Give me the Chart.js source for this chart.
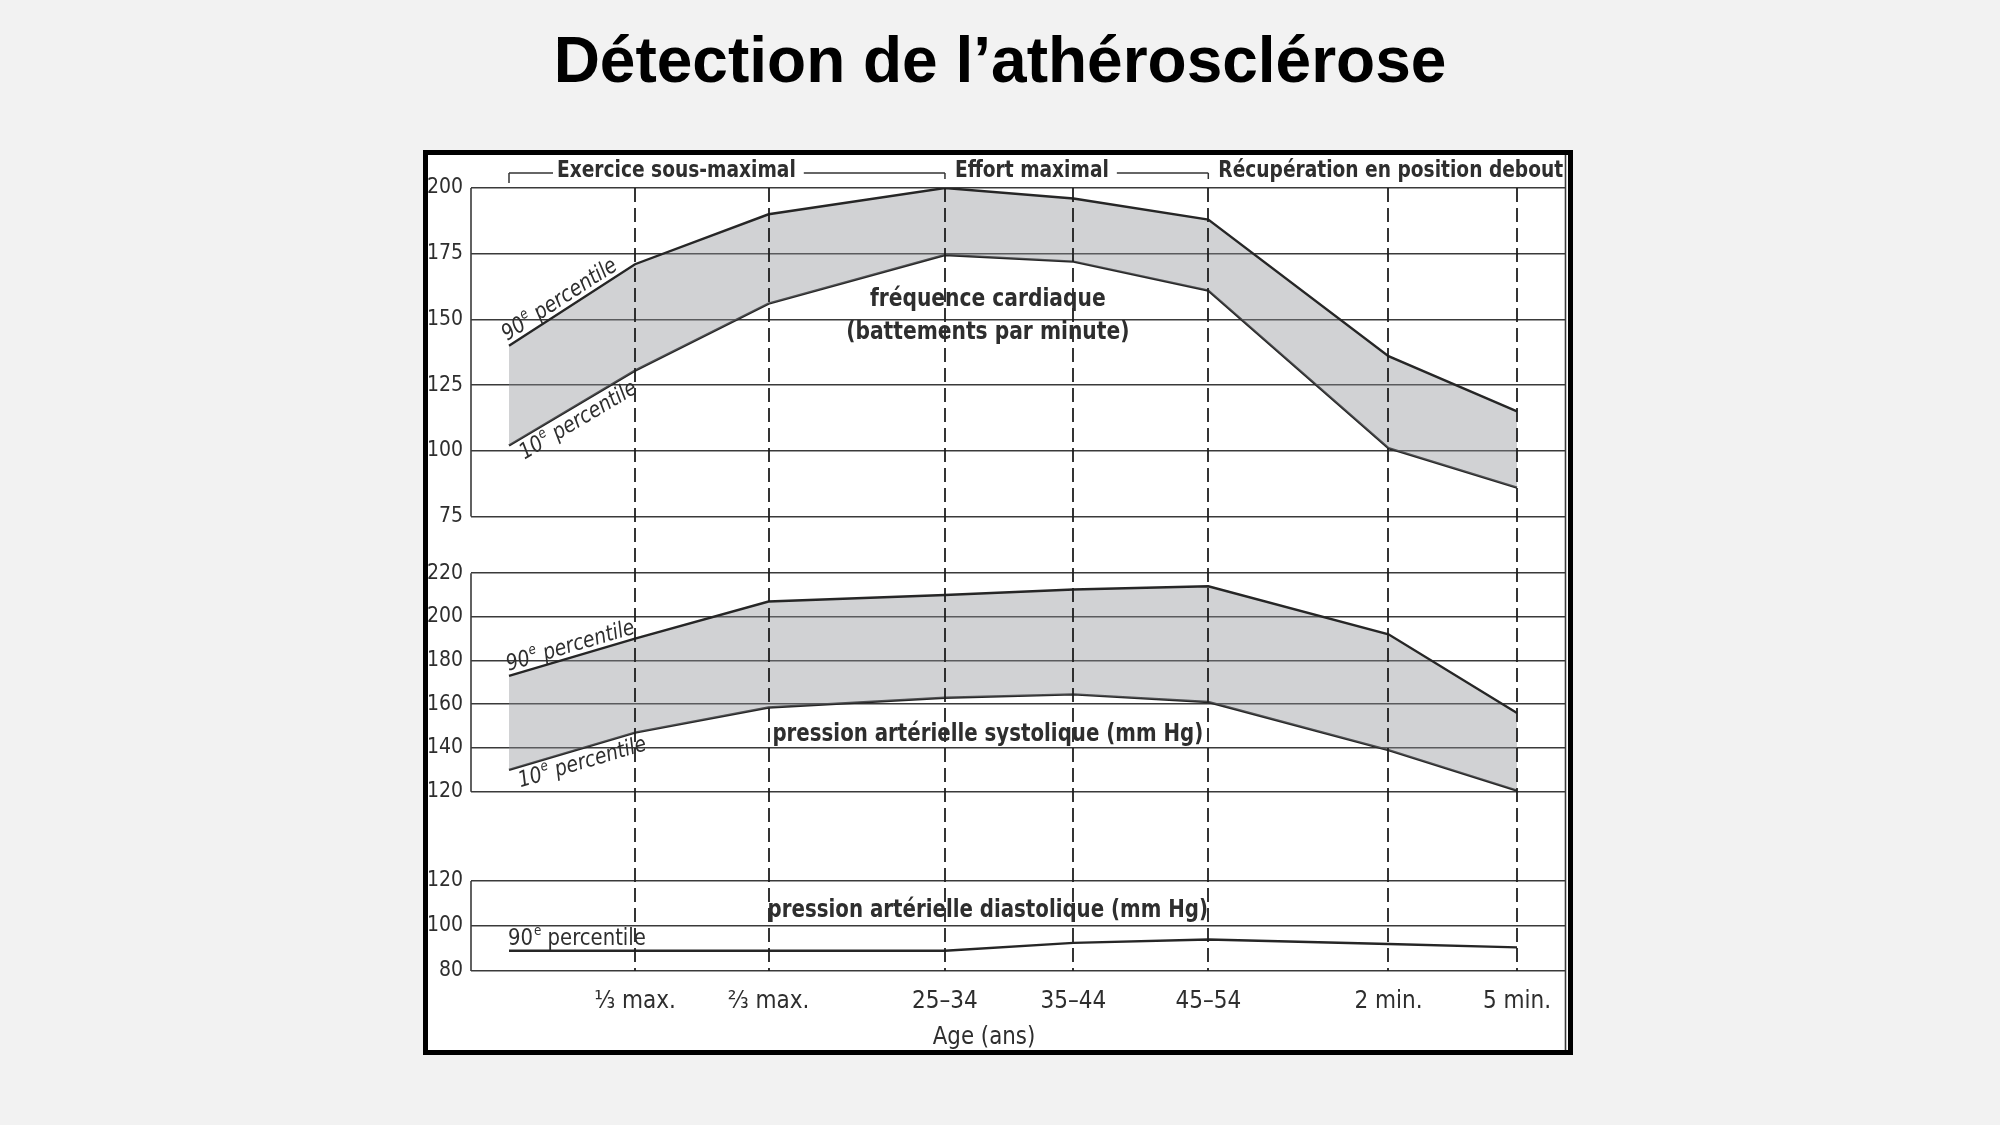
<!DOCTYPE html>
<html lang="fr">
<head>
  <meta charset="UTF-8" />
  <title>Détection de l’athérosclérose</title>
  <style>
    body {
      margin: 0;
      width: 2000px;
      height: 1125px;
      background: #f2f2f2;
      position: relative;
      overflow: hidden;
    }

    .title {
      position: absolute;
      left: 0;
      top: 28px;
      width: 2000px;
      margin: 0;
      text-align: center;
      font-family: 'Liberation Sans', Arial, sans-serif;
      font-weight: bold;
      font-size: 64px;
      line-height: 1;
      color: #000;
    }

    .frame {
      position: absolute;
      left: 423px;
      top: 150px;
      width: 1150px;
      height: 905px;
      box-sizing: border-box;
      border: 5px solid #000;
      background: #fff;
    }

    canvas {
      display: block;
    }
  </style>
</head>
<body>
  <h1 class="title">Détection de l’athérosclérose</h1>

  <div class="frame">
    <canvas id="chart" width="1140" height="895"></canvas>
  </div>

  <script src="https://cdn.jsdelivr.net/npm/chart.js"></script>
  <script>
    // stages along the x axis (first one is rest, no label)
    const stageLabels = ['', '⅓ max.', '⅔ max.', '25–34', '35–44', '45–54', '2 min.', '5 min.'];
    const stageAt = [0, 1, 2.06, 3.46, 4.48, 5.55, 6.98, 8.0];

    // fréquence cardiaque (battements par minute)
    const hr90 = [140, 171, 190, 200, 196, 188, 136, 115];
    const hr10 = [102, 130.5, 156, 174.5, 172, 161, 101, 86];

    // pression artérielle systolique (mm Hg)
    const sys90 = [173, 190, 207, 210, 212.5, 214, 192, 156];
    const sys10 = [130, 147, 158.5, 163, 164.5, 161, 139, 120.5];

    // pression artérielle diastolique (mm Hg)
    const dia90 = [89, 89, 89, 89, 92.5, 94, 92, 90.5];

    const hrTicks = [75, 100, 125, 150, 175, 200];
    const sysTicks = [120, 140, 160, 180, 200, 220];
    const diaTicks = [80, 100, 120];

    const phases = [
      { text: 'Exercice sous-maximal', from: 0, to: 3 },
      { text: 'Effort maximal', from: 3, to: 5 },
      { text: 'Récupération en position debout', from: 5, to: null }
    ];

    const NARROW = "'Liberation Sans Narrow', 'DejaVu Sans Condensed', 'Arial Narrow', sans-serif";
    const INK = '#2e2e2e';
    const LINE = '#262626';
    const BAND = 'rgba(140, 143, 148, 0.4)';
    const TICK_SIZE = 21;

    const pts = arr => stageAt.map((x, i) => ({ x: x, y: arr[i] }));

    // y labels are mirrored (no clipping on a zero-width axis), so shift them back left
    const measure = document.createElement('canvas').getContext('2d');
    function labelShift(ticks) {
      measure.font = TICK_SIZE + 'px ' + NARROW;
      const widest = Math.max(...ticks.map(v => measure.measureText(String(v)).width));
      return -(8 + widest);
    }

    function yAxis(min, max, ticks) {
      return {
        type: 'linear',
        position: 'left',
        min: min,
        max: max,
        afterBuildTicks: s => { s.ticks = ticks.map(v => ({ value: v })); },
        afterFit: s => { s.width = 0; },
        grid: { color: '#3a3a3a', lineWidth: 1.6, drawTicks: false },
        border: { display: false },
        ticks: {
          mirror: true,
          crossAlign: 'far',
          padding: labelShift(ticks),
          color: INK,
          font: { family: NARROW, size: TICK_SIZE }
        }
      };
    }

    // text squeezed horizontally to look like a condensed face
    function squeezed(ctx, text, x, y, sx) {
      ctx.save();
      ctx.translate(x, y);
      ctx.scale(sx, 1);
      ctx.fillText(text, 0, 0);
      const w = ctx.measureText(text).width * sx;
      ctx.restore();
      return w;
    }

    // "90e percentile" with a raised e
    function percentileText(ctx, num, x, y, size, italic) {
      const st = italic ? 'italic ' : '';
      const sx = 0.95;
      ctx.font = st + size + 'px ' + NARROW;
      let w = squeezed(ctx, num, x, y, sx);
      ctx.font = st + Math.round(size * 0.62) + 'px ' + NARROW;
      w += squeezed(ctx, 'e', x + w + 1, y - size * 0.42, sx) + 1;
      ctx.font = st + size + 'px ' + NARROW;
      squeezed(ctx, ' percentile', x + w, y, sx);
    }

    function labelAlong(ctx, xs, ys, arr, num, above) {
      const x0 = xs.getPixelForValue(stageAt[0]), y0 = ys.getPixelForValue(arr[0]);
      const x1 = xs.getPixelForValue(stageAt[1]), y1 = ys.getPixelForValue(arr[1]);
      ctx.save();
      ctx.translate(x0, y0);
      ctx.rotate(Math.atan2(y1 - y0, x1 - x0));
      ctx.textBaseline = 'alphabetic';
      ctx.fillStyle = INK;
      percentileText(ctx, num, above ? 1 : 6, above ? -5 : 20, 22, true);
      ctx.restore();
    }

    const overlay = {
      id: 'overlay',
      afterDatasetsDraw(chart) {
        const { ctx, chartArea: a, scales } = chart;
        const x = scales.x;
        ctx.save();

        // dashed stage lines
        ctx.strokeStyle = '#1e1e1e';
        ctx.lineWidth = 1.8;
        ctx.setLineDash([14, 6]);
        for (let i = 1; i < stageAt.length; i++) {
          const px = Math.round(x.getPixelForValue(stageAt[i]));
          ctx.beginPath();
          ctx.moveTo(px, a.top);
          ctx.lineTo(px, a.bottom);
          ctx.stroke();
        }
        ctx.setLineDash([]);

        // left border of each panel
        ctx.strokeStyle = '#3a3a3a';
        ctx.lineWidth = 1.6;
        [[scales.yHR, hrTicks], [scales.ySys, sysTicks], [scales.yDia, diaTicks]].forEach(([s, t]) => {
          ctx.beginPath();
          ctx.moveTo(a.left, s.getPixelForValue(Math.max(...t)));
          ctx.lineTo(a.left, s.getPixelForValue(Math.min(...t)));
          ctx.stroke();
        });

        // right inner frame line
        ctx.beginPath();
        ctx.moveTo(a.right + 0.5, 0);
        ctx.lineTo(a.right + 0.5, chart.height);
        ctx.stroke();

        // phase header
        const hy = a.top - 15;
        ctx.strokeStyle = '#333';
        ctx.lineWidth = 1.5;
        ctx.fillStyle = INK;
        ctx.font = 'bold 23px ' + NARROW;
        ctx.textBaseline = 'middle';
        ctx.textAlign = 'left';
        phases.forEach((p, i) => {
          const sx = x.getPixelForValue(stageAt[p.from]);
          const tx = sx + (i === 0 ? 48 : 10);
          const tw = squeezed(ctx, p.text, tx, hy - 2, 0.9);
          ctx.beginPath();
          ctx.moveTo(sx, hy + (i === 0 ? 10 : 6));
          ctx.lineTo(sx, hy);
          ctx.stroke();
          if (i === 0) {
            ctx.beginPath();
            ctx.moveTo(sx, hy);
            ctx.lineTo(tx - 4, hy);
            ctx.stroke();
          }
          if (p.to !== null) {
            const ex = x.getPixelForValue(stageAt[p.to]);
            ctx.beginPath();
            ctx.moveTo(tx + tw + 8, hy);
            ctx.lineTo(ex, hy);
            ctx.stroke();
          }
        });

        // panel titles
        const lx = x.getPixelForValue(3.8);
        ctx.textAlign = 'center';
        ctx.font = 'bold 25px ' + NARROW;
        squeezed(ctx, 'fréquence cardiaque', lx, scales.yHR.getPixelForValue(157.4), 0.9);
        squeezed(ctx, '(battements par minute)', lx, scales.yHR.getPixelForValue(144.9), 0.9);
        squeezed(ctx, 'pression artérielle systolique (mm Hg)', lx, scales.ySys.getPixelForValue(146), 0.88);
        squeezed(ctx, 'pression artérielle diastolique (mm Hg)', lx, scales.yDia.getPixelForValue(107), 0.88);

        // axis title
        ctx.font = '25px ' + NARROW;
        squeezed(ctx, 'Age (ans)', x.getPixelForValue(3.77), a.bottom + 66, 0.95);

        // percentile labels
        ctx.textAlign = 'left';
        labelAlong(ctx, x, scales.yHR, hr90, '90', true);
        labelAlong(ctx, x, scales.yHR, hr10, '10', false);
        labelAlong(ctx, x, scales.ySys, sys90, '90', true);
        labelAlong(ctx, x, scales.ySys, sys10, '10', false);
        ctx.textBaseline = 'alphabetic';
        percentileText(ctx, '90', x.getPixelForValue(stageAt[0]) - 1,
          scales.yDia.getPixelForValue(dia90[0]) - 6, 23, false);

        ctx.restore();
      }
    };

    const lineStyle = {
      borderColor: LINE,
      borderWidth: 2.4,
      pointRadius: 0,
      tension: 0
    };

    new Chart(document.getElementById('chart'), {
      type: 'line',
      data: {
        datasets: [
          { ...lineStyle, label: 'FC 90e', data: pts(hr90), yAxisID: 'yHR', fill: '+1', backgroundColor: BAND },
          { ...lineStyle, label: 'FC 10e', data: pts(hr10), yAxisID: 'yHR', fill: false },
          { ...lineStyle, label: 'PAS 90e', data: pts(sys90), yAxisID: 'ySys', fill: '+1', backgroundColor: BAND },
          { ...lineStyle, label: 'PAS 10e', data: pts(sys10), yAxisID: 'ySys', fill: false },
          { ...lineStyle, label: 'PAD 90e', data: pts(dia90), yAxisID: 'yDia', fill: false }
        ]
      },
      options: {
        responsive: false,
        animation: false,
        layout: { padding: { left: 43, right: 3, top: 33, bottom: 0 } },
        plugins: {
          legend: { display: false },
          tooltip: { enabled: false }
        },
        scales: {
          x: {
            type: 'linear',
            min: -0.3016,
            max: 8.381,
            afterBuildTicks: s => { s.ticks = stageAt.slice(1).map(v => ({ value: v })); },
            afterFit: s => { s.height = 79; },
            grid: { display: false },
            border: { display: false },
            ticks: {
              autoSkip: false,
              maxRotation: 0,
              padding: 8,
              color: INK,
              font: { family: NARROW, size: 24 },
              callback: (v, i) => stageLabels[i + 1]
            }
          },
          yHR: yAxis(-97.9, 200, hrTicks),
          ySys: yAxis(37.9, 396.3, sysTicks),
          yDia: yAxis(80, 427.9, diaTicks)
        }
      },
      plugins: [overlay]
    });
  </script>
</body>
</html>
